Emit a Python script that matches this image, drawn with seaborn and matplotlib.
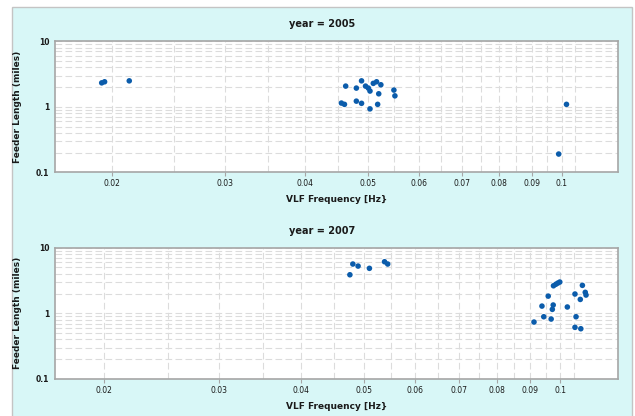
import numpy as np
import pandas as pd
import matplotlib
matplotlib.use("Agg")
import matplotlib.pyplot as plt
from matplotlib.patches import Rectangle
from matplotlib.ticker import FixedLocator, FixedFormatter, NullFormatter
import seaborn as sns

# ======================
# dados
# ======================
freq_2005 = [0.0193, 0.0195, 0.0213, 0.0462, 0.0489, 0.0480, 0.0496, 0.0501, 0.0504,
             0.0510, 0.0516, 0.0524, 0.0520, 0.0549, 0.0551, 0.0455, 0.0460, 0.0480,
             0.0489, 0.0504, 0.0518, 0.1018, 0.0990]
length_2005 = [2.32, 2.41, 2.49, 2.07, 2.49, 1.93, 2.07, 1.93, 1.74,
               2.28, 2.41, 2.17, 1.58, 1.80, 1.47, 1.14, 1.09, 1.22,
               1.13, 0.93, 1.09, 1.09, 0.19]

freq_2007 = [0.0476, 0.0481, 0.0490, 0.0510, 0.0538, 0.0544, 0.0912, 0.0938, 0.0944,
             0.0959, 0.0969, 0.0973, 0.0976, 0.0977, 0.0985, 0.0992, 0.0999, 0.1026,
             0.1054, 0.1058, 0.1054, 0.1074, 0.1076, 0.1082, 0.1093, 0.1096]
length_2007 = [3.87, 5.64, 5.25, 4.85, 6.11, 5.64, 0.737, 1.29, 0.888,
               1.83, 0.819, 1.15, 1.34, 2.63, 2.77, 2.89, 3.00, 1.25,
               1.97, 0.888, 0.612, 1.63, 0.583, 2.67, 2.09, 1.90]

years = ["2005", "2007"]
x_ticks = [0.02, 0.03, 0.04, 0.05, 0.06, 0.07, 0.08, 0.09, 0.1]
x_tick_labels = ["0.02", "0.03", "0.04", "0.05", "0.06", "0.07", "0.08", "0.09", "0.1"]
y_ticks = [0.1, 1, 10]
y_tick_labels = ["0.1", "1", "10"]

df = pd.concat([
    pd.DataFrame({"freq": freq_2005, "length": length_2005, "year": "2005"}),
    pd.DataFrame({"freq": freq_2007, "length": length_2007, "year": "2007"}),
])

# ======================
# figura
# ======================
sns.set_style("white")
plt.rcParams['font.family'] = ['DejaVu Sans']

W, H = 635, 416
fig = plt.figure(figsize=(W / 100, H / 100), dpi=100)
fig.patch.set_facecolor("white")
painel = Rectangle((12 / W, -0.01), 620 / W, 1.01 - 7 / H,
                   transform=fig.transFigure, facecolor="#d8f7f7",
                   edgecolor="#c4c4c4", linewidth=1, zorder=-10)
fig.add_artist(painel)

pos = [
    [55 / W, 1 - 172.3 / H, 563 / W, 131 / H],
    [55 / W, 1 - 379 / H, 563 / W, 131.3 / H],
]
xlims = [(0.01633, 0.1224), (0.0168, 0.1227)]
title_y = [1 - 24 / H, 1 - 231 / H]

grid_col = "#dcdcdc"
frame_col = "#a6a6a6"
text_col = "#1a1a1a"

for i, yr in enumerate(years):
    ax = fig.add_axes(pos[i], zorder=1)
    ax.set_facecolor("white")
    sns.scatterplot(data=df[df["year"] == yr], x="freq", y="length", ax=ax,
                    color="#0b5cab", s=16, edgecolor="none", zorder=3)
    ax.set_xscale("log")
    ax.set_yscale("log")
    ax.set_xlim(*xlims[i])
    ax.set_ylim(0.1, 10)

    ax.xaxis.set_major_locator(FixedLocator(x_ticks))
    ax.xaxis.set_major_formatter(FixedFormatter(x_tick_labels))
    ax.xaxis.set_minor_locator(FixedLocator(np.arange(0.02, 0.1051, 0.005)))
    ax.xaxis.set_minor_formatter(NullFormatter())
    ax.yaxis.set_major_locator(FixedLocator(y_ticks))
    ax.yaxis.set_major_formatter(FixedFormatter(y_tick_labels))
    ax.yaxis.set_minor_locator(FixedLocator(
        [m * d for d in (0.1, 1) for m in range(2, 10)]))
    ax.yaxis.set_minor_formatter(NullFormatter())

    ax.grid(which="both", color=grid_col, linestyle=(0, (6, 3)), linewidth=0.8)
    ax.set_axisbelow(True)

    ax.tick_params(axis="both", which="major", labelsize=5.5, length=3,
                   width=0.8, color=frame_col, labelcolor=text_col, pad=2)
    ax.tick_params(axis="both", which="minor", length=0)
    ax.tick_params(axis="x", bottom=True)
    ax.tick_params(axis="y", left=False, pad=1)
    for lab in ax.get_yticklabels():
        lab.set_fontweight("bold")

    for sp in ax.spines.values():
        sp.set_color(frame_col)
        sp.set_linewidth(1.2)

    ax.set_xlabel("VLF Frequency [Hz}", fontsize=6.5, fontweight="bold",
                  color=text_col, labelpad=5)
    ax.set_ylabel("Feeder Length (miles)", fontsize=6.5, fontweight="bold",
                  color=text_col, labelpad=10)

    fig.text(322 / W, title_y[i], "year = " + yr, ha="center", va="center",
             fontsize=7, fontweight="bold", color=text_col)

fig.savefig("out.png", dpi=100)
